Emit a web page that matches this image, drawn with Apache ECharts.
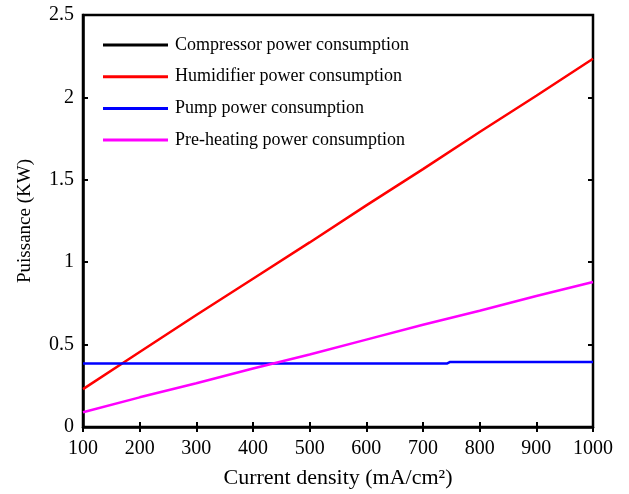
<!DOCTYPE html>
<html>
<head>
<meta charset="utf-8">
<script src="https://cdn.jsdelivr.net/npm/echarts@6/dist/echarts.min.js"></script>
<style>
  html, body { margin: 0; padding: 0; background: #fff; }
  #chart { width: 629px; height: 494px; }
</style>
</head>
<body>
<div id="chart"></div>
<script>
// Current density sample points (mA/cm²)
const currentDensity = [100, 200, 300, 400, 500, 600, 700, 800, 900, 1000];

// Power consumption of each auxiliary (KW)
const compressorPower = [];
const humidifierPower = [0.23, 0.455, 0.68, 0.90, 1.12, 1.345, 1.565, 1.79, 2.01, 2.235];
const preheatingPower = [0.09, 0.18, 0.265, 0.355, 0.44, 0.53, 0.62, 0.705, 0.795, 0.88];

// Pump consumption is flat with a small step near 745 mA/cm²
const pumpDensity = [100, 200, 300, 400, 500, 600, 700, 742, 748, 800, 900, 1000];
const pumpPower   = [0.385, 0.385, 0.385, 0.385, 0.385, 0.385, 0.385, 0.385, 0.395, 0.395, 0.395, 0.395];

const seriesNames = [
  'Compressor power consumption',
  'Humidifier power consumption',
  'Pump power consumption',
  'Pre-heating power consumption'
];
const seriesColors = ['#000000', '#ff0000', '#0000ff', '#ff00ff'];

const pair = (xs, ys) => ys.map((y, i) => [xs[i], y]);

const FONT = '"Liberation Serif", "Times New Roman", serif';

const chart = echarts.init(document.getElementById('chart'), null, { renderer: 'canvas' });

const hiddenAxis = (pos) => ({
  type: 'value', position: pos,
  min: pos === 'top' ? 100 : 0,
  max: pos === 'top' ? 1000 : 2.5,
  interval: pos === 'top' ? 100 : 0.5,
  axisLine: { show: false },
  axisTick: { show: true, inside: true, length: 5, lineStyle: { color: '#000', width: 2 } },
  axisLabel: { show: false },
  splitLine: { show: false }
});

chart.setOption({
  animation: false,
  backgroundColor: '#ffffff',
  color: seriesColors,
  grid: {
    left: 83, right: 36, top: 15, bottom: 64,
    show: true, borderColor: '#000', borderWidth: 2.5, backgroundColor: 'transparent'
  },
  legend: {
    show: true,
    orient: 'vertical',
    left: 98, top: 30,
    itemWidth: 65, itemHeight: 3, itemGap: 11.7,
    itemStyle: { borderWidth: 0 },
    textStyle: { fontFamily: FONT, fontSize: 18, lineHeight: 20, color: '#000', padding: [0, 0, 0, 2] },
    data: seriesNames.map(n => ({ name: n, icon: 'rect' }))
  },
  xAxis: [{
    type: 'value', position: 'bottom',
    min: 100, max: 1000, interval: 100,
    name: 'Current density (mA/cm²)',
    nameLocation: 'middle', nameGap: 40,
    nameTextStyle: { fontFamily: FONT, fontSize: 22, color: '#000' },
    axisLine: { show: true, lineStyle: { color: '#000', width: 2.5 } },
    axisTick: { show: true, inside: true, length: 5, lineStyle: { color: '#000', width: 2 } },
    axisLabel: { fontFamily: FONT, fontSize: 20, color: '#000', margin: 12,
                 formatter: v => String(v) },
    splitLine: { show: false }
  }, hiddenAxis('top')],
  yAxis: [{
    type: 'value', position: 'left',
    min: 0, max: 2.5, interval: 0.5,
    name: 'Puissance (KW)',
    nameLocation: 'middle', nameGap: 48,
    nameTextStyle: { fontFamily: FONT, fontSize: 19, color: '#000' },
    axisLine: { show: true, lineStyle: { color: '#000', width: 2.5 } },
    axisTick: { show: true, inside: true, length: 5, lineStyle: { color: '#000', width: 2 } },
    axisLabel: { fontFamily: FONT, fontSize: 20, color: '#000', margin: 9 },
    splitLine: { show: false }
  }, hiddenAxis('right')],
  series: [
    { name: seriesNames[0], type: 'line', data: pair(currentDensity, compressorPower),
      symbol: 'none', lineStyle: { width: 2.5, color: seriesColors[0] } },
    { name: seriesNames[1], type: 'line', data: pair(currentDensity, humidifierPower),
      symbol: 'none', lineStyle: { width: 2.5, color: seriesColors[1] } },
    { name: seriesNames[2], type: 'line', data: pair(pumpDensity, pumpPower),
      symbol: 'none', lineStyle: { width: 2.5, color: seriesColors[2] } },
    { name: seriesNames[3], type: 'line', data: pair(currentDensity, preheatingPower),
      symbol: 'none', lineStyle: { width: 2.5, color: seriesColors[3] } }
  ]
});
</script>
</body>
</html>
